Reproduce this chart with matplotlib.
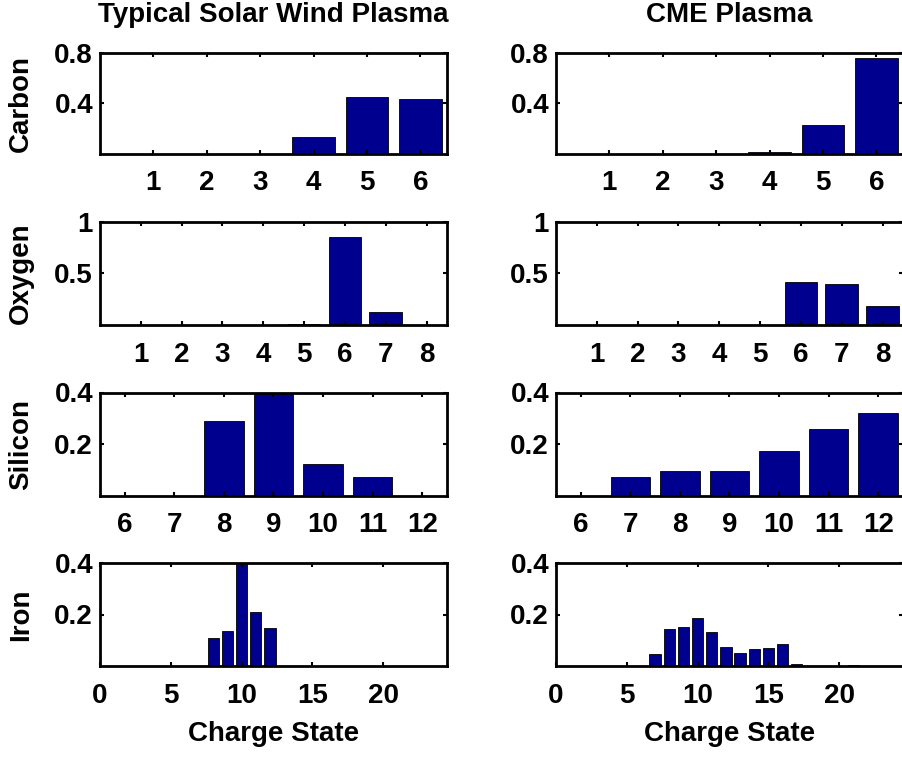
import matplotlib
matplotlib.use('Agg')
from matplotlib import pyplot as plt

plt.rcParams['font.family'] = ['Liberation Sans', 'DejaVu Sans']
plt.rcParams['font.weight'] = 'bold'
plt.rcParams['axes.labelweight'] = 'bold'
plt.rcParams['axes.titleweight'] = 'bold'

BAR_COLOR = '#00008F'
FONT_SIZE = 20

# Charge state distributions (fraction of ions in each charge state)
carbon_states = [1, 2, 3, 4, 5, 6]
carbon_wind = [0, 0, 0, 0.13, 0.45, 0.435]
carbon_cme = [0, 0, 0, 0.012, 0.23, 0.76]

oxygen_states = [1, 2, 3, 4, 5, 6, 7, 8]
oxygen_wind = [0, 0, 0, 0, 0.008, 0.85, 0.13, 0]
oxygen_cme = [0, 0, 0, 0, 0, 0.42, 0.40, 0.18]

silicon_states = [6, 7, 8, 9, 10, 11, 12]
silicon_wind = [0, 0, 0.29, 0.41, 0.122, 0.073, 0]
silicon_cme = [0, 0.073, 0.095, 0.095, 0.174, 0.26, 0.32]

iron_states = [5, 6, 7, 8, 9, 10, 11, 12, 13, 14, 15, 16, 17, 18, 19, 20, 21, 22]
iron_wind = [0, 0, 0, 0.110, 0.137, 0.41, 0.211, 0.147, 0, 0, 0, 0, 0, 0, 0, 0, 0, 0]
iron_cme = [0, 0, 0.045, 0.144, 0.153, 0.188, 0.131, 0.072, 0.051, 0.065, 0.071, 0.087,
            0.006, 0, 0, 0, 0.004, 0]

column_titles = ['Typical Solar Wind Plasma', 'CME Plasma']
element_names = ['Carbon', 'Oxygen', 'Silicon', 'Iron']

# axis setup for each element row: xlim, xticks, ylim, yticks, yticklabels
row_axes = [
    ((0, 6.5), [1, 2, 3, 4, 5, 6], (0, 0.8), [0.4, 0.8], ['0.4', '0.8']),
    ((0, 8.5), [1, 2, 3, 4, 5, 6, 7, 8], (0, 1), [0.5, 1], ['0.5', '1']),
    ((5.5, 12.5), [6, 7, 8, 9, 10, 11, 12], (0, 0.4), [0.2, 0.4], ['0.2', '0.4']),
    ((0, 24.5), [0, 5, 10, 15, 20], (0, 0.4), [0.2, 0.4], ['0.2', '0.4']),
]

# panel boxes in pixels (top, bottom) per row and (left, right) per column
W, H = 903, 759
row_pixels = [(53, 153.5), (221.5, 325), (392.5, 495.5), (563, 666)]
col_pixels = [(100, 447), (556, 903)]


def drawPanel(ax, states, values, setup):
    """ Draws one bar panel in the boxed, inward-tick style """
    xlim, xticks, ylim, yticks, yticklabels = setup
    ax.bar(states, values, width=0.8, color=BAR_COLOR, edgecolor='black', linewidth=0.6)
    ax.set_xlim(xlim)
    ax.set_ylim(ylim)
    ax.set_xticks(xticks)
    ax.set_yticks(yticks)
    ax.set_yticklabels(yticklabels)
    ax.tick_params(direction='in', length=3, width=1.5, top=True, right=True,
                   labelsize=FONT_SIZE)
    ax.tick_params(axis='x', pad=12)
    ax.tick_params(axis='y', pad=5)
    for spine in ax.spines.values():
        spine.set_linewidth(2)


fig = plt.figure(figsize=(W / 100, H / 100), dpi=100)

series = [
    (carbon_states, carbon_wind, carbon_cme),
    (oxygen_states, oxygen_wind, oxygen_cme),
    (silicon_states, silicon_wind, silicon_cme),
    (iron_states, iron_wind, iron_cme),
]

for row, (states, wind, cme) in enumerate(series):
    top, bottom = row_pixels[row]
    for col, values in enumerate([wind, cme]):
        left, right = col_pixels[col]
        ax = fig.add_axes([left / W, 1 - bottom / H, (right - left) / W, (bottom - top) / H])
        drawPanel(ax, states, values, row_axes[row])

        if col == 0:
            ax.set_ylabel(element_names[row], fontsize=FONT_SIZE)
            ax.yaxis.set_label_coords(-0.19, 0.5)
        if row == 0:
            ax.set_title(column_titles[col], fontsize=FONT_SIZE, pad=22)
        if row == len(series) - 1:
            ax.set_xlabel('Charge State', fontsize=FONT_SIZE, labelpad=9)

fig.savefig('out.png', dpi=100)
